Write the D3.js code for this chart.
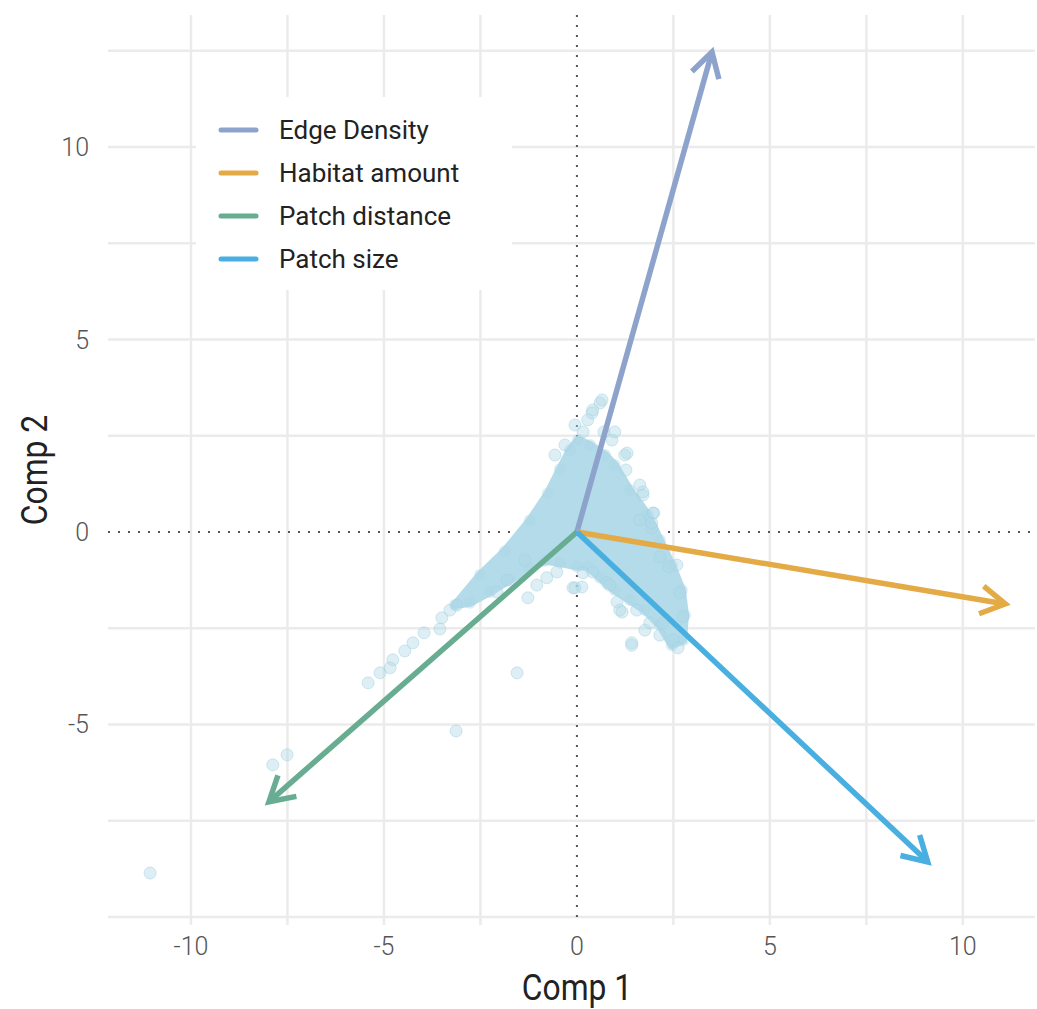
<!DOCTYPE html>
<html>
<head>
<meta charset="utf-8">
<script src="https://cdn.jsdelivr.net/npm/d3@7"></script>
<style>
  body { margin: 0; background: #fff; }
  text { font-family: Roboto, "Noto Sans", sans-serif; }
</style>
</head>
<body>
<script>
var svgWidth = 1037;
var svgHeight = 1009;

// loadings (arrow tips)
var varNames = ["Edge Density", "Habitat amount", "Patch distance", "Patch size"];
var varX = [3.5, 11.1, -7.98, 9.09];
var varY = [12.47, -1.87, -7.01, -8.57];
var varColors = ["#8ea3cb", "#e3aa45", "#68ac91", "#49afe0"];

// dense core of the score cloud (outline)
var coreX = [-3.16, -2.51, -1.87, -1.22, -0.75, -0.44, -0.18, 0.03, 0.34, 0.73, 0.98, 1.37, 1.84, 2.15, 2.46, 2.72, 2.80, 2.75, 2.46, 2.15, 1.76, 1.37, 0.98, 0.60, 0.28, 0.0, -0.44, -0.83, -1.22, -1.74, -2.25, -2.77];
var coreY = [-1.90, -1.12, -0.50, 0.30, 1.00, 1.63, 2.13, 2.39, 2.26, 2.00, 1.74, 1.09, 0.44, -0.21, -0.86, -1.51, -2.16, -2.81, -2.94, -2.42, -2.03, -1.77, -1.51, -1.19, -0.90, -0.90, -0.80, -0.75, -0.94, -1.25, -1.56, -1.84];

// individual scores outside / at the edge of the core
var ptX = [0.60, 0.41, 0.28, 0.70, -0.05, 0.16, 0.91, 1.24, 1.27, 1.63, 1.71, 1.99, 1.94, -0.57, -0.31,
  -5.41, -5.10, -4.84, -4.77, -4.46, -4.25, -3.96, -3.55, -3.50, -3.29, -3.11,
  -1.55, -3.13, -7.88, -7.51, -11.06,
  -2.07, -1.81, -1.35, -1.27, -1.04, -0.78, -0.52, -0.10, 0.13, 0.16, 0.41, 0.78, 1.04, 1.17, 1.55, 1.76, 1.42, 2.15, 2.49, 2.62, 1.89, 2.23,
  1.97, 1.94, 1.71, 1.30, 0.98, 0.65, 0.39,
  2.75, 2.67, 2.59, 2.38, 2.15, 1.63, 1.42, 1.11, 0.85, -0.05];
var ptY = [3.35, 3.17, 2.91, 2.60, 2.78, 2.60, 2.39, 2.00, 1.61, 1.22, 0.96, 0.49, 0.10, 2.00, 2.26,
  -3.92, -3.66, -3.53, -3.32, -3.09, -2.88, -2.62, -2.52, -2.23, -2.03, -1.90,
  -3.66, -5.17, -6.05, -5.79, -8.86,
  -1.56, -1.25, -0.73, -1.71, -1.38, -1.19, -1.04, -1.45, -1.43, -1.06, -1.04, -1.32, -1.82, -2.08, -2.03, -2.55, -2.94, -2.68, -2.81, -3.01, -2.36, -2.36,
  0.49, 0.23, 1.04, 2.05, 2.60, 3.43, 3.09,
  -2.20, -1.58, -0.86, -0.91, -0.65, 0.31, -2.88, -2.03, -1.38, -1.45];

var majorTicks = [-10, -5, 0, 5, 10];
var xMinor = [-7.5, -2.5, 2.5, 7.5];
var yMinor = [-7.5, -2.5, 2.5, 7.5, 12.5];

var svg = d3.select("body").append("svg")
  .attr("width", svgWidth)
  .attr("height", svgHeight);

var x = d3.scaleLinear().domain([-12.15, 11.87]).range([108, 1035]);
var y = d3.scaleLinear().domain([13.43, -10.21]).range([15, 925]);

var grid = svg.append("g");
// vertical gridlines
grid.selectAll(".vg")
  .data(majorTicks.filter(d => d !== 0).concat(xMinor))
  .enter().append("line")
  .attr("x1", d => x(d)).attr("x2", d => x(d))
  .attr("y1", y.range()[0]).attr("y2", y.range()[1])
  .attr("stroke", "#ebebeb").attr("stroke-width", 2.5);
// horizontal gridlines
grid.selectAll(".hg")
  .data(majorTicks.filter(d => d !== 0).concat(yMinor))
  .enter().append("line")
  .attr("y1", d => y(d)).attr("y2", d => y(d))
  .attr("x1", x.range()[0]).attr("x2", x.range()[1])
  .attr("stroke", "#ebebeb").attr("stroke-width", 2.5);

// zero lines (dotted)
svg.append("line")
  .attr("x1", x(0)).attr("x2", x(0))
  .attr("y1", y.range()[0]).attr("y2", y.range()[1])
  .attr("stroke", "#555").attr("stroke-width", 2)
  .attr("stroke-dasharray", "2,8");
svg.append("line")
  .attr("y1", y(0)).attr("y2", y(0))
  .attr("x1", x.range()[0]).attr("x2", x.range()[1])
  .attr("stroke", "#555").attr("stroke-width", 2)
  .attr("stroke-dasharray", "2,8");

// tick labels
svg.selectAll(".xt")
  .data(majorTicks)
  .enter().append("text")
  .attr("x", d => x(d))
  .attr("y", 955)
  .attr("text-anchor", "middle")
  .attr("font-size", 25)
  .attr("font-weight", 300)
  .attr("fill", "#555")
  .text(d => d < 0 ? "-" + Math.abs(d) : d);

svg.selectAll(".yt")
  .data(majorTicks.filter(d => d > -10))
  .enter().append("text")
  .attr("x", 89)
  .attr("y", d => y(d) + 9)
  .attr("text-anchor", "end")
  .attr("font-size", 25)
  .attr("font-weight", 300)
  .attr("fill", "#555")
  .text(d => d < 0 ? "-" + Math.abs(d) : d);

// axis titles
svg.append("text")
  .attr("transform", "translate(577,1000) scale(0.86,1)")
  .attr("text-anchor", "middle")
  .attr("font-size", 37)
  .attr("fill", "#222")
  .text("Comp 1");

svg.append("text")
  .attr("transform", "translate(47,470) rotate(-90) scale(0.86,1)")
  .attr("text-anchor", "middle")
  .attr("font-size", 37)
  .attr("fill", "#222")
  .text("Comp 2");

// dense part of the cloud
var core = coreX.map((d, i) => [d, coreY[i]]);
svg.append("path")
  .datum(core)
  .attr("d", d3.line().x(d => x(d[0])).y(d => y(d[1])).curve(d3.curveLinearClosed))
  .attr("fill", "#b3dbe9")
  .attr("stroke", "#b3dbe9")
  .attr("stroke-width", 8)
  .attr("stroke-linejoin", "round");

// edge points of the core
svg.append("g").selectAll("circle")
  .data(core)
  .enter().append("circle")
  .attr("cx", d => x(d[0]))
  .attr("cy", d => y(d[1]))
  .attr("r", 6)
  .attr("fill", "#add8e6")
  .attr("fill-opacity", 0.45);

// scattered points
var pts = ptX.map((d, i) => [d, ptY[i]]);
svg.append("g").selectAll("circle")
  .data(pts)
  .enter().append("circle")
  .attr("cx", d => x(d[0]))
  .attr("cy", d => y(d[1]))
  .attr("r", 6)
  .attr("fill", "#add8e6")
  .attr("fill-opacity", 0.42)
  .attr("stroke", "#a4cfe0")
  .attr("stroke-opacity", 0.5)
  .attr("stroke-width", 1);

// loading arrows
var arrows = svg.append("g");
varNames.forEach(function(name, i) {
  var x0 = x(0), y0 = y(0), x1 = x(varX[i]), y1 = y(varY[i]);
  var ang = Math.atan2(y1 - y0, x1 - x0);
  var len = 28, spread = Math.PI / 6;
  arrows.append("line")
    .attr("x1", x0).attr("y1", y0).attr("x2", x1).attr("y2", y1)
    .attr("stroke", varColors[i]).attr("stroke-width", 5.5);
  arrows.append("path")
    .attr("d", "M" + (x1 - len * Math.cos(ang - spread)) + "," + (y1 - len * Math.sin(ang - spread)) +
      "L" + x1 + "," + y1 +
      "L" + (x1 - len * Math.cos(ang + spread)) + "," + (y1 - len * Math.sin(ang + spread)))
    .attr("fill", "none")
    .attr("stroke", varColors[i]).attr("stroke-width", 5.5)
    .attr("stroke-linejoin", "miter");
});

// legend
var legend = svg.append("g");
legend.append("rect")
  .attr("x", 196).attr("y", 97)
  .attr("width", 316).attr("height", 193)
  .attr("fill", "#fff");
varNames.forEach(function(name, i) {
  var ly = 130 + i * 43;
  legend.append("line")
    .attr("x1", 221).attr("x2", 256)
    .attr("y1", ly).attr("y2", ly)
    .attr("stroke", varColors[i]).attr("stroke-width", 5)
    .attr("stroke-linecap", "round");
  legend.append("text")
    .attr("x", 279).attr("y", ly + 9)
    .attr("font-size", 26)
    .attr("fill", "#222")
    .text(name);
});
</script>
</body>
</html>
